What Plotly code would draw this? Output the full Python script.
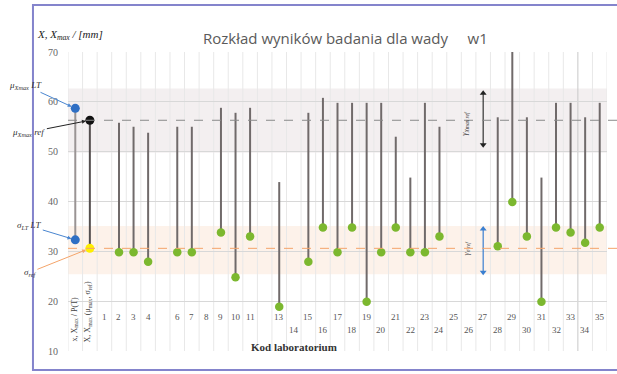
import plotly.graph_objects as go

# ---------------- data ----------------
lab_codes = list(range(1, 36))
tick_text = [str(c) if c not in (5, 12) else "" for c in lab_codes]
tick_row = [0 if c <= 13 else (1 if c % 2 == 0 else 0) for c in lab_codes]

labs_with_data = [2, 3, 4, 6, 7, 9, 10, 11, 13, 15, 16, 17, 18, 19, 20, 21, 22, 23, 24,
                  28, 29, 30, 31, 32, 33, 34, 35]
xmax_values = [55.8, 55.0, 53.8, 55.0, 55.0, 58.8, 57.8, 58.8, 43.9, 57.8, 60.8, 59.8, 59.8,
               59.8, 59.8, 53.0, 44.8, 59.8, 55.0, 56.9, 70.0, 56.9, 44.8, 59.8, 59.8, 56.9, 59.8]
x_values = [29.8, 29.8, 27.9, 29.8, 29.8, 33.8, 24.8, 33.0, 18.9, 27.9, 34.8, 29.8, 34.8,
            19.9, 29.8, 34.8, 29.8, 29.8, 33.0, 31.0, 39.9, 33.0, 19.9, 34.8, 33.8, 31.7, 34.8]

lt_xmax, lt_x = 58.7, 32.3
ref_xmax, ref_x = 56.3, 30.6
ref_xmax_band = (49.8, 62.7)
ref_x_band = (25.4, 35.1)

LT_IDX, REF_IDX = 0, 1
ARROW_IDX = 28
def lab_idx(code):
    return code + 1

fig = go.Figure()

# background bands
fig.add_shape(type="rect", xref="x", yref="y", x0=-0.5, x1=36.5,
              y0=ref_xmax_band[0], y1=ref_xmax_band[1],
              fillcolor="#f3eff0", line=dict(width=0), layer="below")
fig.add_shape(type="rect", xref="x", yref="y", x0=-0.5, x1=36.5,
              y0=ref_x_band[0], y1=ref_x_band[1],
              fillcolor="#fdf2ea", line=dict(width=0), layer="below")

# vertical category grid lines
for k in range(38):
    b = -0.5 + k
    fig.add_shape(type="line", xref="x", yref="y", x0=b, x1=b, y0=10, y1=70,
                  line=dict(color="#c8c8c8" if k == 35 else "#e8e8e8", width=1), layer="below")

# reference dashed lines (extend to the right edge)
fig.add_shape(type="line", xref="paper", yref="y", x0=0, x1=1.03, y0=ref_xmax, y1=ref_xmax,
              line=dict(color="#8a8a8a", width=1, dash="dash"))
fig.add_shape(type="line", xref="paper", yref="y", x0=0, x1=1.03, y0=ref_x, y1=ref_x,
              line=dict(color="#f4a46a", width=1, dash="dash"))

# stems
sx, sy = [], []
for code, top, bot in zip(labs_with_data, xmax_values, x_values):
    sx += [lab_idx(code), lab_idx(code), None]
    sy += [top, bot, None]
fig.add_trace(go.Scatter(x=sx, y=sy, mode="lines", line=dict(color="#706a6a", width=2),
                         hoverinfo="skip"))
fig.add_trace(go.Scatter(x=[LT_IDX, LT_IDX], y=[lt_xmax, lt_x], mode="lines",
                         line=dict(color="#9a9494", width=2), hoverinfo="skip"))
fig.add_trace(go.Scatter(x=[REF_IDX, REF_IDX], y=[ref_xmax, ref_x], mode="lines",
                         line=dict(color="#555050", width=2), hoverinfo="skip"))

# double arrows (band widths)
fig.add_trace(go.Scatter(x=[ARROW_IDX, ARROW_IDX], y=[ref_xmax_band[1] - 1.0, ref_xmax_band[0] + 1.6],
                         mode="lines+markers", line=dict(color="#333333", width=1.2),
                         marker=dict(symbol=["triangle-up", "triangle-down"], size=6, color="#222222"),
                         hoverinfo="skip"))
fig.add_trace(go.Scatter(x=[ARROW_IDX, ARROW_IDX], y=[ref_x_band[1] - 0.6, ref_x_band[0] + 0.4],
                         mode="lines+markers", line=dict(color="#3a7fd0", width=1.2),
                         marker=dict(symbol=["triangle-up", "triangle-down"], size=6, color="#3a7fd0"),
                         hoverinfo="skip"))

# green points (lab X)
fig.add_trace(go.Scatter(x=[lab_idx(c) for c in labs_with_data], y=x_values, mode="markers",
                         marker=dict(color="#7cb82f", size=8.5)))
# LT points
fig.add_trace(go.Scatter(x=[LT_IDX, LT_IDX], y=[lt_xmax, lt_x], mode="markers",
                         marker=dict(color="#2f6fc4", size=9)))
# ref points
fig.add_trace(go.Scatter(x=[REF_IDX], y=[ref_xmax], mode="markers",
                         marker=dict(color="#111111", size=9)))
fig.add_trace(go.Scatter(x=[REF_IDX], y=[ref_x], mode="markers",
                         marker=dict(color="#ffee00", size=9)))

serif = "Liberation Serif"
ann = []
# x tick labels inside plot (two staggered rows)
row_y = [16.9, 14.3]
for code, txt, row in zip(lab_codes, tick_text, tick_row):
    if txt:
        ann.append(dict(x=lab_idx(code), y=row_y[row], xref="x", yref="y", text=txt,
                        showarrow=False, font=dict(family=serif, size=9, color="#555555")))
# rotated category labels for LT and ref columns
ann.append(dict(x=LT_IDX - 0.05, y=11.5, xref="x", yref="y", yanchor="bottom",
                text="x, X<sub>max</sub> / P(T)", textangle=-90, showarrow=False,
                font=dict(family=serif, size=8, color="#444444")))
ann.append(dict(x=REF_IDX - 0.1, y=11.3, xref="x", yref="y", yanchor="bottom",
                text="X, X<sub>max</sub> (μ<sub>max</sub>, σ<sub>ref</sub>)", textangle=-90,
                showarrow=False, font=dict(family=serif, size=8, color="#444444")))

# left arrow labels
lab_font = dict(family=serif, size=9, color="#333333")
ann.append(dict(x=LT_IDX, y=lt_xmax, xref="x", yref="y", ax=-50, ay=-23,
                text="<i>μ<sub>Xmax</sub> LT</i>", showarrow=True, arrowhead=2, arrowsize=0.8,
                arrowwidth=1, arrowcolor="#4a86d0", standoff=4, font=lab_font))
ann.append(dict(x=REF_IDX, y=ref_xmax, xref="x", yref="y", ax=-61, ay=12,
                text="<i>μ<sub>Xmax</sub> ref</i>", showarrow=True, arrowhead=2, arrowsize=0.8,
                arrowwidth=1, arrowcolor="#222222", standoff=4, font=lab_font))
ann.append(dict(x=LT_IDX, y=lt_x, xref="x", yref="y", ax=-46, ay=-14,
                text="<i>σ<sub>LT</sub> LT</i>", showarrow=True, arrowhead=2, arrowsize=0.8,
                arrowwidth=1, arrowcolor="#4a86d0", standoff=4, font=lab_font))
ann.append(dict(x=REF_IDX, y=ref_x, xref="x", yref="y", ax=-60, ay=24,
                text="<i>σ<sub>ref</sub></i>", showarrow=True, arrowhead=2, arrowsize=0.8,
                arrowwidth=1, arrowcolor="#f4a46a", standoff=4, font=lab_font))

# rotated labels next to the double arrows
ann.append(dict(x=26.75, y=ref_xmax - 0.5, xref="x", yref="y", text="<i>γ<sub>Xmax ref</sub></i>",
                textangle=-90, showarrow=False, font=dict(family=serif, size=8, color="#333333")))
ann.append(dict(x=26.9, y=ref_x, xref="x", yref="y", text="<i>γ<sub>σ ref</sub></i>",
                textangle=-90, showarrow=False, font=dict(family=serif, size=8, color="#555555")))

# titles
ann.append(dict(x=0.514, y=1.088, xref="paper", yref="paper",
                text="Rozkład wyników badania dla wady     w1",
                showarrow=False, font=dict(family="Open Sans", size=15, color="#5a5a5a")))
ann.append(dict(x=-0.062, y=1.088, xref="paper", yref="paper", xanchor="left",
                text="<i>X, X<sub>max</sub> / [mm]</i>", showarrow=False,
                font=dict(family=serif, size=11, color="#222222")))
ann.append(dict(x=0.42, y=-0.012, xref="paper", yref="paper", text="<b>Kod laboratorium</b>",
                showarrow=False, font=dict(family=serif, size=11, color="#333333")))

# outer frame
fig.add_shape(type="rect", xref="paper", yref="paper", x0=-0.065, x1=1.04, y0=-0.0635, y1=1.157,
              line=dict(color="#8484cc", width=2), fillcolor="rgba(0,0,0,0)")

fig.update_layout(
    width=617, height=374, autosize=False,
    margin=dict(l=68, r=10, t=52, b=23),
    paper_bgcolor="white", plot_bgcolor="white",
    showlegend=False, annotations=ann,
    xaxis=dict(range=[-0.5, 36.5], showticklabels=False, showgrid=False, zeroline=False,
               showline=False, fixedrange=True),
    yaxis=dict(range=[10, 70], dtick=10, showgrid=True, gridcolor="#d8d8d8", gridwidth=1,
               zeroline=False, showline=False, ticks="", ticklabelstandoff=9,
               tickfont=dict(family=serif, size=10, color="#666666")),
)

fig.write_html("out.html")
